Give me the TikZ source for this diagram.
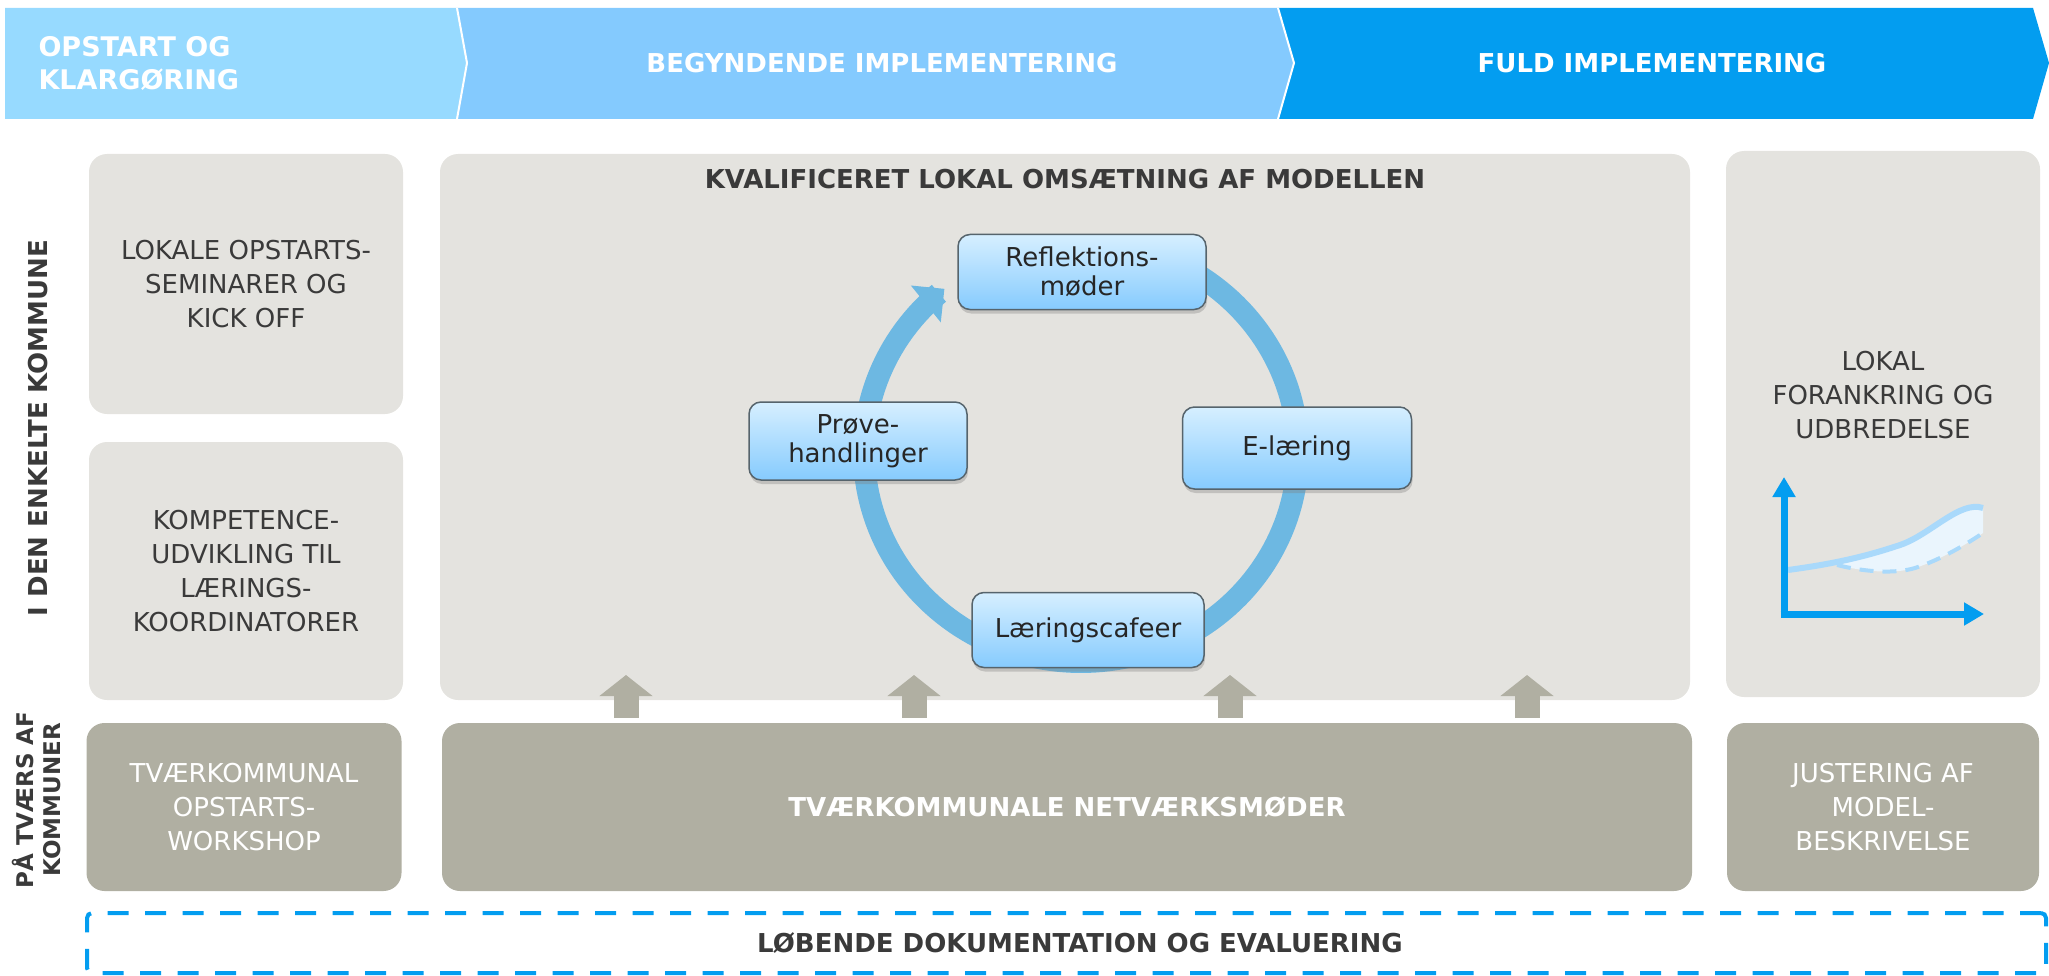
\documentclass[tikz,border=0pt]{standalone}
\usepackage{fontspec}
\setmainfont{DejaVu Sans}
\usepackage{xcolor}
\usetikzlibrary{arrows.meta, positioning, shadows}
\definecolor{bannerA}{HTML}{97DAFF}
\definecolor{bannerB}{HTML}{84CAFE}
\definecolor{bannerC}{HTML}{039DF0}
\definecolor{paleGray}{HTML}{E4E3DF}
\definecolor{taupe}{HTML}{B0AFA2}
\definecolor{darkText}{HTML}{3A3A3A}
\definecolor{ringBlue}{HTML}{6DB8E2}
\definecolor{cycTop}{HTML}{D6EFFF}
\definecolor{cycBot}{HTML}{86CBFE}
\definecolor{cycEdge}{HTML}{56646C}
\definecolor{curveBlue}{HTML}{A9D9FB}
\definecolor{curveFill}{HTML}{EAF5FD}
\newcommand{\bigfont}{\fontsize{26}{34}\selectfont}
\tikzset{
    panel/.style={fill=paleGray, rounded corners=18pt, inner sep=0pt, text=darkText, font=\bigfont, align=center},
    taupepanel/.style={fill=taupe, rounded corners=18pt, inner sep=0pt, text=white, font=\bigfont, align=center},
    bannertext/.style={text=white, font=\bfseries\fontsize{26}{33}\selectfont},
    sidelabel/.style={rotate=90, text=darkText, align=center},
    cyclebox/.style={draw=cycEdge, line width=1.5pt, rounded corners=12pt, top color=cycTop, bottom color=cycBot,
        text=black!85, font=\fontsize{26}{29}\selectfont, align=center, inner sep=0pt,
        drop shadow={shadow xshift=1pt, shadow yshift=-4pt, opacity=0.35}},
    ring/.style={ringBlue, line width=22pt, -{Triangle[width=46pt, length=24pt]}},
    uparrow/.style={taupe, line width=25pt, -{Triangle[width=52pt, length=21pt]}},
    axis/.style={bannerC, line width=7pt, -{Triangle[width=22pt, length=20pt]}},
    docbox/.style={draw=bannerC, line width=4pt, dash pattern=on 21pt off 16.5pt, rounded corners=5pt, inner sep=0pt}
}
\newcommand{\drawBox}[7][panel]{
    \node[#1, minimum width=#5pt, minimum height=#6pt] (#2) at (#3,#4) {#7};
}
\newcommand{\drawC}[6]{
    \node[cyclebox, minimum width=#4pt, minimum height=#5pt] (#1) at (#2,#3) {#6};
}
\newcommand{\drawUp}[1]{
    \draw[uparrow] (#1,718) -- (#1,675);
}

\begin{document}
\begin{tikzpicture}[x=1pt, y=-1pt]
    \useasboundingbox (0,0) rectangle (2049,976);

    % Banner
        \fill[bannerA] (5,8) -- (457,8) -- (467,63) -- (457,119) -- (5,119) -- cycle;
        \fill[bannerB] (457,8) -- (1278,8) -- (1294,63) -- (1278,119) -- (457,119) -- (467,63) -- cycle;
        \fill[bannerC] (1278,8) -- (2033,8) -- (2049,63) -- (2033,119) -- (1278,119) -- (1294,63) -- cycle;
        \draw[white, line width=2pt] (457,8) -- (467,63) -- (457,119);
        \draw[white, line width=2pt] (1278,8) -- (1294,63) -- (1278,119);
        \node[bannertext, font=\bfseries\fontsize{27}{33}\selectfont, anchor=west, align=left] (phaseA) at (35,63) {OPSTART OG\\KLARGØRING};
        \node[bannertext] (phaseB) at (882,63) {BEGYNDENDE IMPLEMENTERING};
        \node[bannertext] (phaseC) at (1652,63) {FULD IMPLEMENTERING};

    % Side labels
        \node[sidelabel, font=\bfseries\fontsize{26}{30}\selectfont] (local) at (38,428) {I DEN ENKELTE KOMMUNE};
        \node[sidelabel, font=\bfseries\fontsize{23}{27}\selectfont] (cross) at (36,800) {PÅ TVÆRS AF\\KOMMUNER};

    % Boxes
        \drawBox{kick}{246}{284}{314}{260}{LOKALE OPSTARTS-\\SEMINARER OG\\KICK OFF}
        \drawBox{komp}{246}{571}{314}{258}{KOMPETENCE-\\UDVIKLING TIL\\LÆRINGS-\\KOORDINATORER}
        \drawBox[taupepanel]{work}{244}{807}{315}{168}{TVÆRKOMMUNAL\\OPSTARTS-\\WORKSHOP}
        \drawBox{main}{1065}{427}{1250}{546}{}
        \drawBox[taupepanel]{net}{1067}{807}{1250}{168}{\bfseries TVÆRKOMMUNALE NETVÆRKSMØDER}
        \drawBox{spread}{1883}{424}{314}{546}{}
        \drawBox[taupepanel]{adjust}{1883}{807}{312}{168}{JUSTERING AF\\MODEL-\\BESKRIVELSE}
        \node[text=darkText, font=\bfseries\fontsize{26}{33}\selectfont] (title) at (1065,179) {KVALIFICERET LOKAL OMSÆTNING AF MODELLEN};
        \node[text=darkText, font=\bigfont, align=center] (spreadtxt) at (1883,395) {LOKAL\\FORANKRING OG\\UDBREDELSE};

    % Cycle
        \draw[ring] plot[domain=60:-231, samples=150] ({1081+217*cos(\x)}, {452-210*sin(\x)});
        \drawC{refl}{1082}{272}{248}{75}{Reflektions-\\møder}
        \drawC{proeve}{858}{441}{218}{78}{Prøve-\\handlinger}
        \drawC{elear}{1297}{448}{229}{82}{E-læring}
        \drawC{cafe}{1088}{630}{232}{75}{Læringscafeer}

    % Up arrows
        \drawUp{626}
        \drawUp{914}
        \drawUp{1230}
        \drawUp{1527}

    % Chart
        \fill[curveFill] (1837,565) .. controls (1870,557) and (1888,549) .. (1900,545)
            .. controls (1930,535) and (1960,500) .. (1983,508) -- (1983,533)
            .. controls (1965,545) and (1940,560) .. (1915,568)
            .. controls (1895,574) and (1865,572) .. (1837,565) -- cycle;
        \draw[curveBlue, line width=4pt, dash pattern=on 14pt off 9pt] (1837,565) .. controls (1865,572) and (1895,574) .. (1915,568)
            .. controls (1940,560) and (1965,545) .. (1983,533);
        \draw[curveBlue, line width=6pt] (1788,570) .. controls (1840,563) and (1870,555) .. (1900,545)
            .. controls (1930,535) and (1960,500) .. (1983,508);
        \coordinate (origin) at (1784,614);
        \coordinate (ytip) at (1784,477);
        \coordinate (xtip) at (1984,614);
        \draw[axis] ([yshift=-3.5pt]origin) -- (ytip);
        \draw[axis] ([xshift=-3.5pt]origin) -- (xtip);

    % Documentation
        \node[docbox, minimum width=1959pt, minimum height=60pt] (doc) at (1066.5,943) {};
        \node[text=darkText, font=\bfseries\fontsize{26}{33}\selectfont] (doctxt) at (1080,943) {LØBENDE DOKUMENTATION OG EVALUERING};
\end{tikzpicture}
\end{document}
